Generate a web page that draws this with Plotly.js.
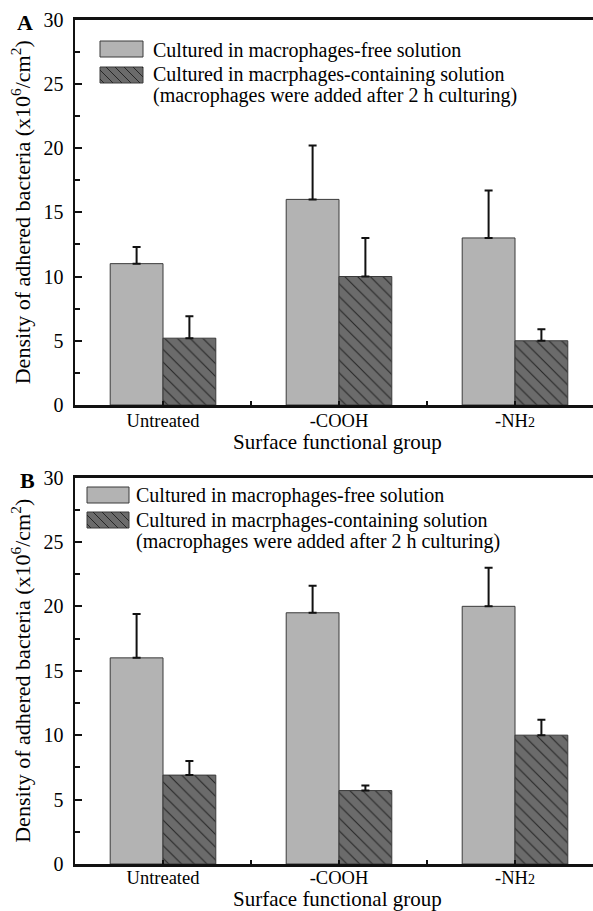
<!DOCTYPE html>
<html>
<head>
<meta charset="utf-8">
<script src="https://cdn.plot.ly/plotly-3.0.1.min.js"></script>
<style>html,body{margin:0;padding:0;background:#fff;}#chart{width:593px;height:911px;}</style>
</head>
<body>
<div id="chart"></div>
<script>
// ---- data ----
const categories = ['Untreated', '-COOH', '-NH<span style="font-size:14px">2</span>'];
const seriesNames = ['Cultured in macrophages-free solution',
                     'Cultured in macrphages-containing solution'];
const legendNote = '(macrophages were added after 2 h culturing)';
const xTitle = 'Surface functional group';
const yTitle = 'Density of adhered bacteria (x10<sup>6</sup>/cm<sup>2</sup>)';
// Panel A
const freeA = [11, 16, 13];
const freeAErr = [1.3, 4.2, 3.7];
const macroA = [5.2, 10, 5];
const macroAErr = [1.7, 3.0, 0.9];
// Panel B
const freeB = [16, 19.5, 20];
const freeBErr = [3.4, 2.1, 3.0];
const macroB = [6.9, 5.7, 10];
const macroBErr = [1.1, 0.4, 1.2];
const yTicks = [0, 5, 10, 15, 20, 25, 30];
const panelLabels = ['A', 'B'];

// ---- helpers ----
const W = 593, H = 911;
const px = v => v / W;
const py = v => 1 - v / H;
const FONT = 'Liberation Serif, Times New Roman, serif';
const TXT = '#000';
const idx = categories.map((_, i) => i);
const lightFill = '#b3b3b3';
const darkFill = '#6b6b6b';
const hatchColor = '#262626';
const edge = '#3a3a3a';

function freeTrace(vals, errs, xa, ya) {
  return {
    type: 'bar', x: idx, y: vals, xaxis: xa, yaxis: ya, name: seriesNames[0],
    showlegend: false,
    marker: {color: lightFill, line: {color: edge, width: 1}},
    error_y: {type: 'data', symmetric: false, array: errs, arrayminus: errs.map(() => 0),
              color: '#111', thickness: 2, width: 4}
  };
}
function macroTrace(vals, errs, xa, ya) {
  return {
    type: 'bar', x: idx, y: vals, xaxis: xa, yaxis: ya, name: seriesNames[1],
    showlegend: false,
    marker: {color: darkFill, line: {color: edge, width: 1},
             pattern: {shape: '\\', bgcolor: darkFill, fgcolor: hatchColor, size: 9, solidity: 0.12}},
    error_y: {type: 'data', symmetric: false, array: errs, arrayminus: errs.map(() => 0),
              color: '#111', thickness: 2, width: 4}
  };
}

const data = [
  freeTrace(freeA, freeAErr, 'x', 'y'),
  macroTrace(macroA, macroAErr, 'x', 'y'),
  freeTrace(freeB, freeBErr, 'x2', 'y2'),
  macroTrace(macroB, macroBErr, 'x2', 'y2')
];

const xDomain = [px(75), 1];
const xRange = [-0.5, -0.5 + 518 / 176];

function xAxis(anchor, standoff) {
  return {
    anchor: anchor, domain: xDomain, range: xRange, type: 'linear',
    tickmode: 'array', tickvals: idx, ticktext: categories,
    ticks: 'inside', ticklen: 4, tickwidth: 2, tickcolor: '#111',
    minor: {tickmode: 'array', tickvals: [0.5, 1.5], ticks: 'inside', ticklen: 4, tickwidth: 2, tickcolor: '#111', showgrid: false},
    showline: true, linewidth: 2.5, linecolor: '#111', mirror: true,
    showgrid: false, zeroline: false,
    ticklabelstandoff: standoff,
    tickfont: {family: FONT, size: 18.5, color: TXT},
    fixedrange: true
  };
}
function yAxis(anchor, domain) {
  return {
    anchor: anchor, domain: domain, range: [0, 30],
    tickmode: 'array', tickvals: yTicks,
    ticks: 'inside', ticklen: 7, tickwidth: 2, tickcolor: '#111',
    minor: {dtick: 2.5, tick0: 0, ticks: 'inside', ticklen: 5, tickwidth: 2, tickcolor: '#111', showgrid: false},
    showline: true, linewidth: 2.5, linecolor: '#111',
    showgrid: false, zeroline: false,
    ticklabelstandoff: 5,
    tickfont: {family: FONT, size: 20, color: TXT},
    title: {text: yTitle, font: {family: FONT, size: 22, color: TXT}, standoff: 7},
    fixedrange: true
  };
}

// ---- legend (drawn as shapes + text) ----
const shapes = [];
const annotations = [];
function legendBlock(boxX, box1Y, box2Y, boxW, boxH, textX, lineYs) {
  shapes.push({type: 'rect', xref: 'paper', yref: 'paper',
    x0: px(boxX), x1: px(boxX + boxW), y0: py(box1Y + boxH), y1: py(box1Y),
    fillcolor: lightFill, line: {color: edge, width: 1}});
  shapes.push({type: 'rect', xref: 'paper', yref: 'paper',
    x0: px(boxX), x1: px(boxX + boxW), y0: py(box2Y + boxH), y1: py(box2Y),
    fillcolor: darkFill, line: {color: edge, width: 1}});
  // hatch lines inside the second swatch
  const x0 = boxX, x1 = boxX + boxW, top = box2Y, bot = box2Y + boxH;
  for (let a = x0 - boxH + 4; a < x1; a += 9) {
    let sx = a, sy = top, ex = a + boxH, ey = bot;
    if (sx < x0) { sy = top + (x0 - sx); sx = x0; }
    if (ex > x1) { ey = bot - (ex - x1); ex = x1; }
    if (ex - sx < 1) continue;
    shapes.push({type: 'line', xref: 'paper', yref: 'paper',
      x0: px(sx), y0: py(sy), x1: px(ex), y1: py(ey),
      line: {color: hatchColor, width: 1}});
  }
  const texts = [seriesNames[0], seriesNames[1], legendNote];
  texts.forEach((t, i) => annotations.push({
    xref: 'paper', yref: 'paper', x: px(textX), y: py(lineYs[i]),
    xanchor: 'left', yanchor: 'middle', showarrow: false, text: t,
    font: {family: FONT, size: 20, color: TXT}
  }));
}
legendBlock(100, 41, 67, 43, 16, 151, [50, 75, 95]);
legendBlock(87, 487, 512, 42, 16, 134, [495, 520, 541.5]);

// x-axis titles
[442, 899].forEach(yc => annotations.push({
  xref: 'paper', yref: 'paper', x: px(337), y: py(yc), xanchor: 'center', yanchor: 'middle',
  showarrow: false, text: xTitle, font: {family: FONT, size: 21, color: TXT}, borderpad: 0
}));

// panel letters
annotations.push({xref: 'paper', yref: 'paper', x: px(25), y: py(22), xanchor: 'center', yanchor: 'middle',
  showarrow: false, text: '<b>' + panelLabels[0] + '</b>', font: {family: FONT, size: 22, color: TXT}});
annotations.push({xref: 'paper', yref: 'paper', x: px(27), y: py(481), xanchor: 'center', yanchor: 'middle',
  showarrow: false, text: '<b>' + panelLabels[1] + '</b>', font: {family: FONT, size: 22, color: TXT}});

const layout = {
  width: W, height: H,
  margin: {l: 0, r: 0, t: 0, b: 0},
  paper_bgcolor: '#fff', plot_bgcolor: '#fff',
  barmode: 'group', bargap: 0.4, bargroupgap: 0,
  showlegend: false,
  xaxis: xAxis('y', -3),
  yaxis: yAxis('x', [py(405), py(19.5)]),
  xaxis2: xAxis('y2', -5),
  yaxis2: yAxis('x2', [py(864), py(477.5)]),
  shapes: shapes,
  annotations: annotations
};

Plotly.newPlot('chart', data, layout, {displayModeBar: false, staticPlot: true});
</script>
</body>
</html>
